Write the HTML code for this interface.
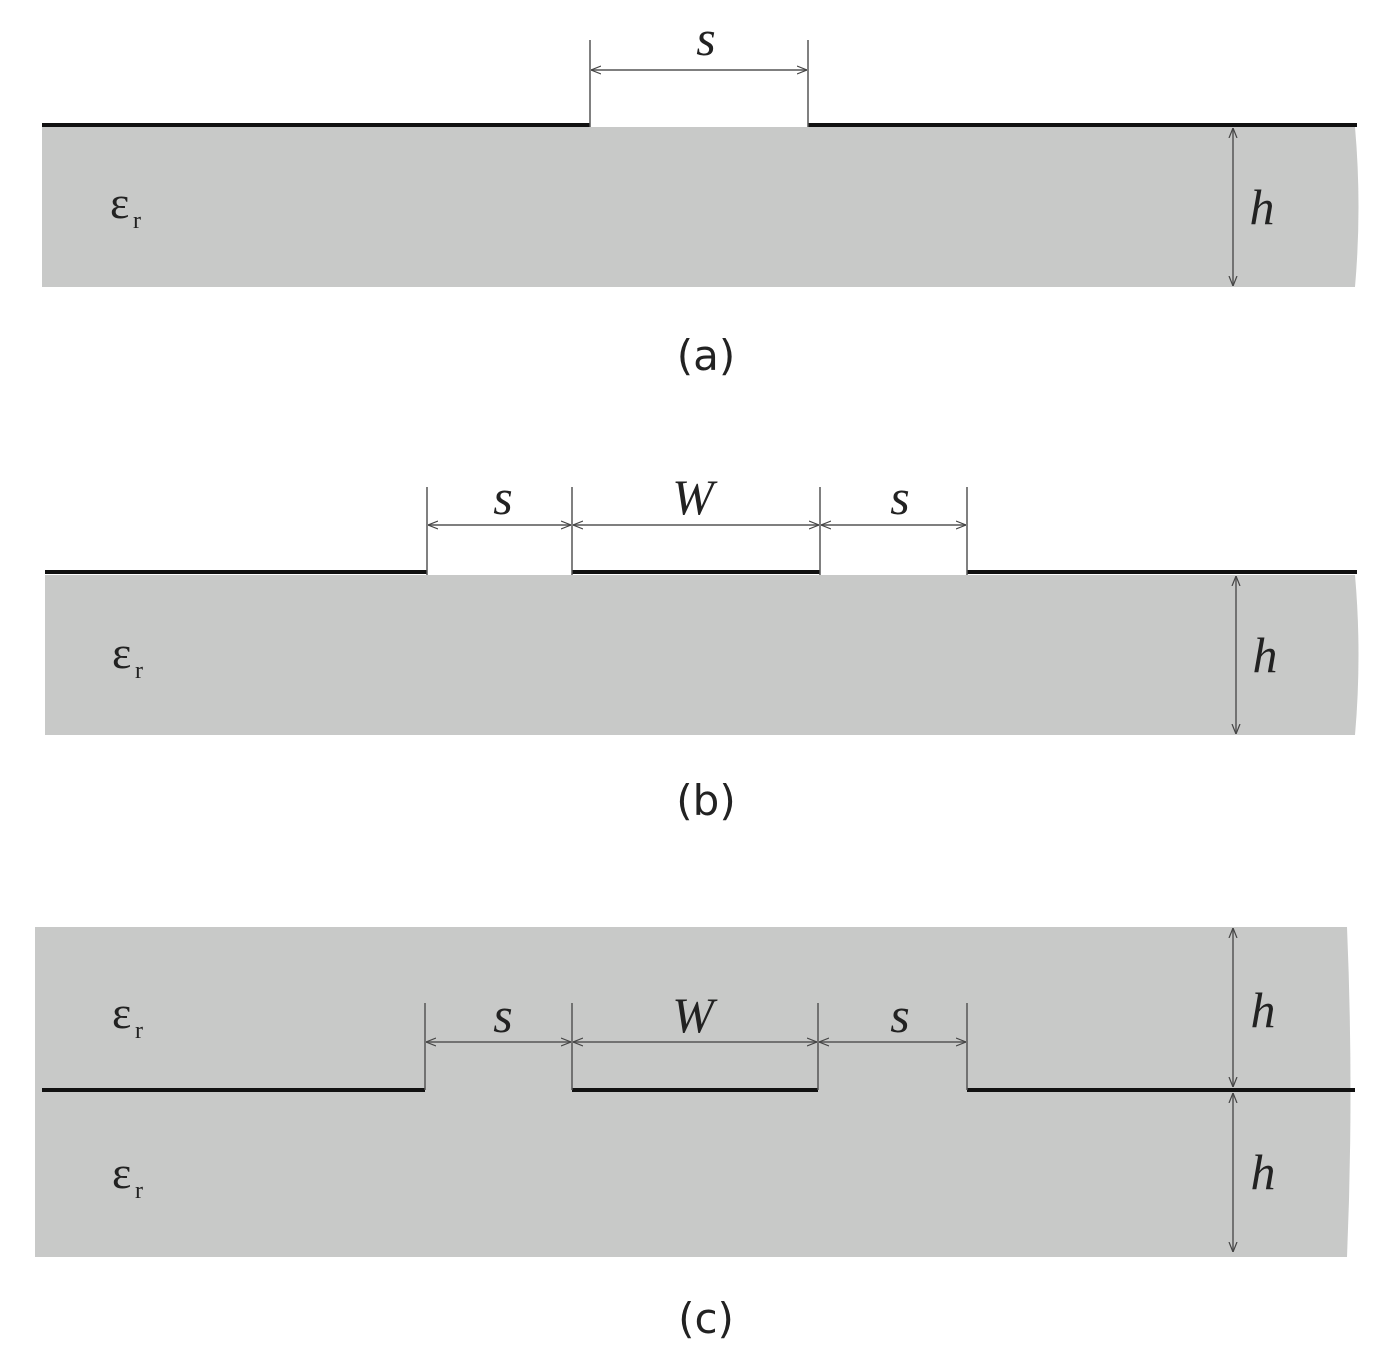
<!DOCTYPE html>
<html><head><meta charset="utf-8"><style>
html,body{margin:0;padding:0;background:#fff;}
svg{display:block;}
.it{font-family:"Liberation Serif",serif;font-style:italic;font-size:50px;fill:#222;}
.cap{font-family:"DejaVu Sans","Liberation Sans",sans-serif;font-size:42px;fill:#222;}
.ep{font-family:"Liberation Serif",serif;font-size:46px;fill:#222;}
.sub{font-family:"Liberation Serif",serif;font-size:24px;fill:#222;}
</style></head><body>
<svg width="1392" height="1369" viewBox="0 0 1392 1369" xmlns="http://www.w3.org/2000/svg">
<defs>
<marker id="a" viewBox="0 0 10 10" refX="10" refY="5" markerWidth="10" markerHeight="10" orient="auto-start-reverse" markerUnits="userSpaceOnUse"><path d="M0,1 L10,5 L0,9" fill="none" stroke="#444" stroke-width="1.2"/></marker>
</defs>
<!-- Panel a -->
<path d="M42,127 H1355 Q1362,207 1355,287 H42 Z" fill="#c8c9c8"/>
<g stroke="#111" stroke-width="4"><line x1="42" y1="125" x2="590" y2="125"/><line x1="808" y1="125" x2="1357" y2="125"/></g>
<g stroke="#555" stroke-width="1.5"><line x1="590" y1="40" x2="590" y2="127"/><line x1="808" y1="40" x2="808" y2="127"/>
<line x1="591" y1="70" x2="807" y2="70" marker-start="url(#a)" marker-end="url(#a)"/>
<line x1="1233" y1="128" x2="1233" y2="286" marker-start="url(#a)" marker-end="url(#a)"/></g>
<text class="it" x="706" y="55" text-anchor="middle">s</text>
<text class="it" x="1262" y="224" text-anchor="middle">h</text>
<text class="ep" x="110" y="218">ε</text><text class="sub" x="133" y="228">r</text>
<text class="cap" x="706" y="370" text-anchor="middle">(a)</text>
<!-- Panel b -->
<path d="M45,575 H1355 Q1362,655 1355,735 H45 Z" fill="#c8c9c8"/>
<g stroke="#111" stroke-width="4"><line x1="45" y1="572" x2="427" y2="572"/><line x1="572" y1="572" x2="820" y2="572"/><line x1="967" y1="572" x2="1357" y2="572"/></g>
<g stroke="#555" stroke-width="1.5">
<line x1="427" y1="487" x2="427" y2="575"/><line x1="572" y1="487" x2="572" y2="575"/><line x1="820" y1="487" x2="820" y2="575"/><line x1="967" y1="487" x2="967" y2="575"/>
<line x1="428" y1="525" x2="571" y2="525" marker-start="url(#a)" marker-end="url(#a)"/>
<line x1="573" y1="525" x2="819" y2="525" marker-start="url(#a)" marker-end="url(#a)"/>
<line x1="821" y1="525" x2="966" y2="525" marker-start="url(#a)" marker-end="url(#a)"/>
<line x1="1236" y1="576" x2="1236" y2="734" marker-start="url(#a)" marker-end="url(#a)"/></g>
<text class="it" x="503" y="514" text-anchor="middle">s</text>
<text class="it" x="693" y="514" text-anchor="middle">W</text>
<text class="it" x="900" y="514" text-anchor="middle">s</text>
<text class="it" x="1265" y="672" text-anchor="middle">h</text>
<text class="ep" x="112" y="668">ε</text><text class="sub" x="135" y="678">r</text>
<text class="cap" x="706" y="815" text-anchor="middle">(b)</text>
<!-- Panel c -->
<path d="M35,927 H1347 Q1354,1092 1347,1257 H35 Z" fill="#c8c9c8"/>
<g stroke="#111" stroke-width="4"><line x1="42" y1="1090" x2="425" y2="1090"/><line x1="572" y1="1090" x2="818" y2="1090"/><line x1="967" y1="1090" x2="1355" y2="1090"/></g>
<g stroke="#555" stroke-width="1.5">
<line x1="425" y1="1003" x2="425" y2="1090"/><line x1="572" y1="1003" x2="572" y2="1090"/><line x1="818" y1="1003" x2="818" y2="1090"/><line x1="967" y1="1003" x2="967" y2="1090"/>
<line x1="426" y1="1042" x2="571" y2="1042" marker-start="url(#a)" marker-end="url(#a)"/>
<line x1="573" y1="1042" x2="817" y2="1042" marker-start="url(#a)" marker-end="url(#a)"/>
<line x1="819" y1="1042" x2="966" y2="1042" marker-start="url(#a)" marker-end="url(#a)"/>
<line x1="1233" y1="928" x2="1233" y2="1087" marker-start="url(#a)" marker-end="url(#a)"/>
<line x1="1233" y1="1093" x2="1233" y2="1252" marker-start="url(#a)" marker-end="url(#a)"/></g>
<text class="it" x="503" y="1032" text-anchor="middle">s</text>
<text class="it" x="693" y="1032" text-anchor="middle">W</text>
<text class="it" x="900" y="1032" text-anchor="middle">s</text>
<text class="it" x="1263" y="1027" text-anchor="middle">h</text>
<text class="it" x="1263" y="1189" text-anchor="middle">h</text>
<text class="ep" x="112" y="1028">ε</text><text class="sub" x="135" y="1038">r</text>
<text class="ep" x="112" y="1188">ε</text><text class="sub" x="135" y="1198">r</text>
<text class="cap" x="706" y="1333" text-anchor="middle">(c)</text>
</svg>
</body></html>
